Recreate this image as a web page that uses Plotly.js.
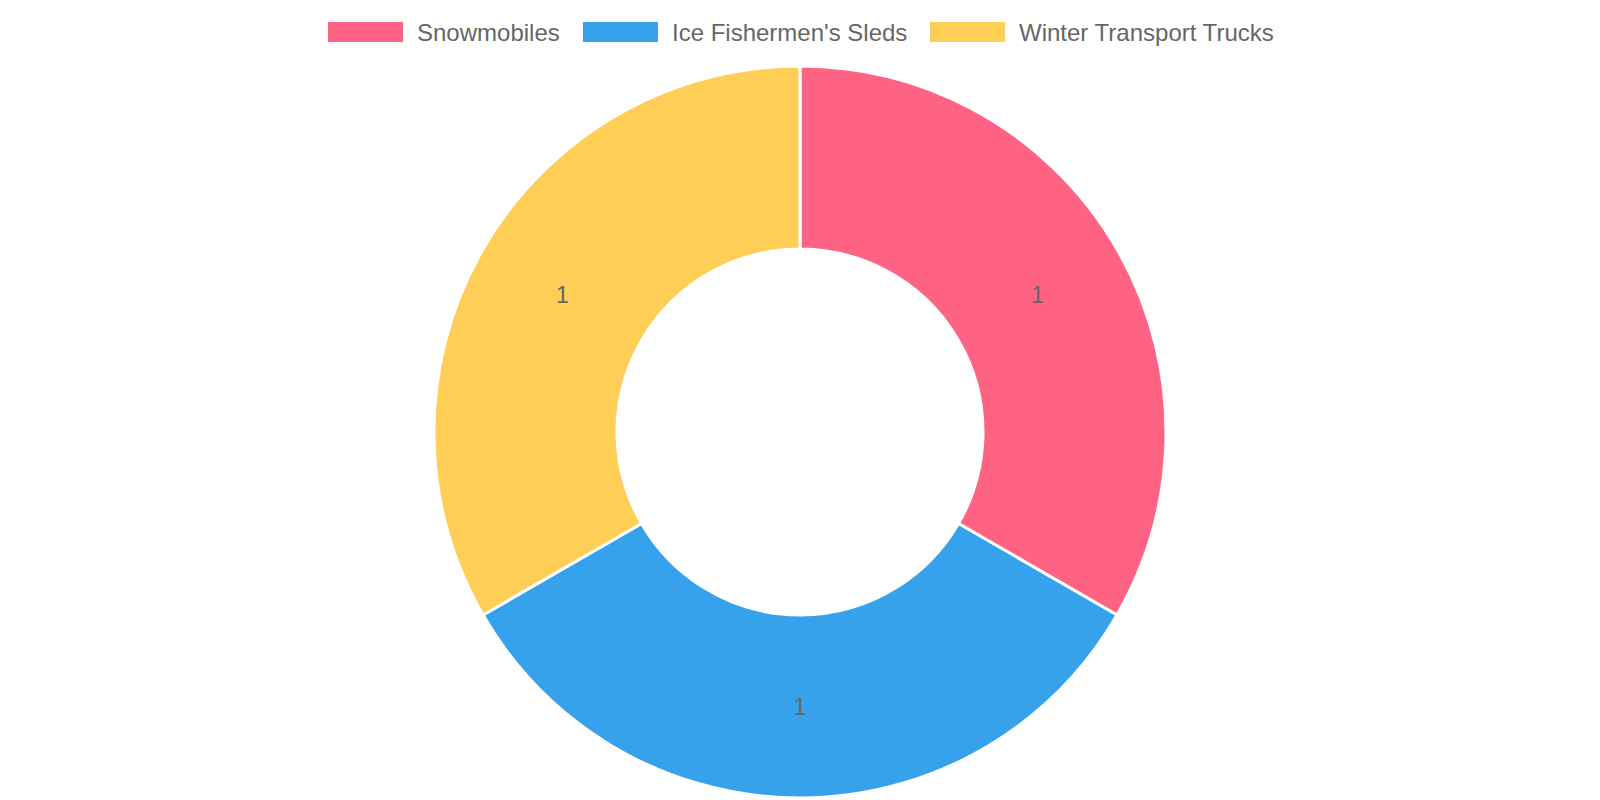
<!DOCTYPE html>
<html>
<head>
<meta charset="utf-8">
<script src="https://cdn.plot.ly/plotly-3.0.1.min.js"></script>
<style>html,body{margin:0;padding:0;background:#fff}#chart{width:1600px;height:800px}</style>
</head>
<body>
<div id="chart"></div>
<script>
var categories = ["Snowmobiles", "Ice Fishermen's Sleds", "Winter Transport Trucks"];
var values = [1, 1, 1];
var colors = ["#FF6384", "#36A2EB", "#FFCE56"];

var W = 1600, H = 800;
var M = {l: 0, r: 0, t: 66, b: 2};
var pw = W - M.l - M.r, ph = H - M.t - M.b;
function px2x(px){ return (px - M.l) / pw; }
function py2y(py){ return 1 - (py - M.t) / ph; }

var FONT = 'Liberation Sans, Arial, Helvetica, sans-serif';

var trace = {
  type: 'pie',
  labels: categories,
  values: values,
  hole: 0.5,
  sort: false,
  direction: 'clockwise',
  rotation: 0,
  marker: {colors: colors, line: {color: '#ffffff', width: 3}},
  textinfo: 'value',
  textposition: 'inside',
  insidetextorientation: 'horizontal',
  textfont: {family: FONT, size: 23, color: '#666666'},
  hoverinfo: 'label+value',
  showlegend: false
};

// custom legend (Chart.js style wide boxes)
var legendBoxX = [328, 583, 930];
var shapes = [], annotations = [];
for (var i = 0; i < categories.length; i++) {
  shapes.push({type: 'rect', xref: 'paper', yref: 'paper',
    x0: px2x(legendBoxX[i]), x1: px2x(legendBoxX[i] + 75),
    y0: py2y(42), y1: py2y(22),
    fillcolor: colors[i], line: {width: 0}});
  annotations.push({xref: 'paper', yref: 'paper', x: px2x(legendBoxX[i] + 87), y: py2y(32),
    xanchor: 'left', yanchor: 'middle', showarrow: false, text: categories[i],
    font: {family: FONT, size: 24, color: '#666666'}});
}

var layout = {
  width: W, height: H,
  margin: M,
  paper_bgcolor: '#ffffff',
  plot_bgcolor: '#ffffff',
  showlegend: false,
  shapes: shapes,
  annotations: annotations,
  font: {family: FONT, color: '#666666'}
};

Plotly.newPlot('chart', [trace], layout, {displayModeBar: false, staticPlot: true});
</script>
</body>
</html>
